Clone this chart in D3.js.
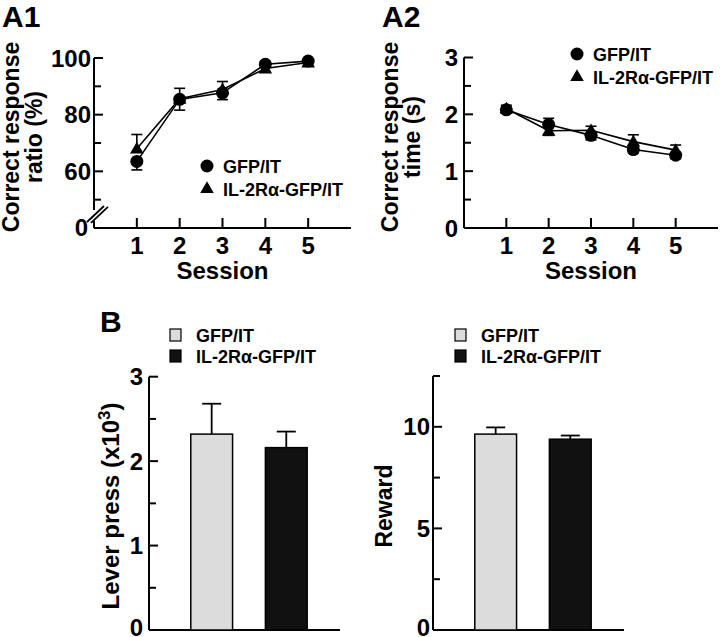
<!DOCTYPE html>
<html><head><meta charset="utf-8">
<script src="https://cdn.jsdelivr.net/npm/d3@7/dist/d3.min.js"></script>
<style>
html,body{margin:0;padding:0;background:#fff;}
svg text{font-family:"Liberation Sans",Arial,Helvetica,sans-serif;font-weight:bold;fill:#000;}
</style></head>
<body>
<svg id="chart" width="720" height="637"></svg>
<script>
// ---------- DATA ----------
const sessions = [1, 2, 3, 4, 5];
const seriesNames = ["GFP/IT", "IL-2Rα-GFP/IT"];
// A1: correct response ratio (%)
const a1GFP = [63.5, 85.4, 87.7, 97.8, 98.9];
const a1GFPErr = [3.0, 3.8, 2.4, 1.0, 0.8];
const a1IL = [68.0, 85.6, 88.9, 96.3, 98.4];
const a1ILErr = [5.0, 3.7, 2.8, 1.2, 1.0];
const a1Ticks = [50, 60, 70, 80, 90, 100];
const a1Labels = [60, 80, 100];
// A2: correct response time (s)
const a2GFP = [2.08, 1.82, 1.63, 1.38, 1.28];
const a2GFPErr = [0.06, 0.11, 0.08, 0.06, 0.06];
const a2IL = [2.10, 1.71, 1.72, 1.52, 1.37];
const a2ILErr = [0.06, 0.08, 0.07, 0.12, 0.09];
const a2Ticks = [0, 0.5, 1, 1.5, 2, 2.5, 3];
const a2Labels = [0, 1, 2, 3];
// B: bars
const leverPress = [2.32, 2.16];
const leverPressErr = [0.36, 0.19];
const leverTicks = [0, 0.5, 1, 1.5, 2, 2.5, 3];
const leverLabels = [0, 1, 2, 3];
const reward = [9.64, 9.39];
const rewardErr = [0.33, 0.18];
const rewardTicks = [0, 2.5, 5, 7.5, 10, 12.5];
const rewardLabels = [0, 5, 10];
const barFills = ["#dcdcdc", "#111111"];

// ---------- DRAW ----------
const svg = d3.select("#chart");
const TICKF = 24, TITLEF = 23, LEGF = 18;

function text(g, x, y, s, size, anchor, rot) {
  const t = g.append("text").attr("font-size", size).attr("text-anchor", anchor || "start").text(s);
  if (rot) t.attr("transform", `translate(${x},${y}) rotate(-90)`);
  else t.attr("x", x).attr("y", y);
  return t;
}

function yTicks(g, x0, y, ticks, labels, fmt, pad) {
  ticks.forEach(v => {
    const major = labels.includes(v);
    g.append("line").attr("x1", x0).attr("x2", x0 + (major ? 9 : 7))
      .attr("y1", y(v)).attr("y2", y(v)).attr("stroke", "#000").attr("stroke-width", 2);
    if (major) text(g, x0 - pad, Math.min(y(v) + 8.5, 636), fmt(v), TICKF, "end");
  });
}

function linePanel(opts) {
  const g = svg.append("g");
  const x = d3.scaleLinear().domain([0, 6]).range(opts.xr);
  const y = d3.scaleLinear().domain(opts.yd).range([228, opts.ytop]);
  const x0 = x(0);
  // x axis
  g.append("line").attr("x1", x0).attr("x2", opts.xr[1]).attr("y1", 228).attr("y2", 228)
    .attr("stroke", "#000").attr("stroke-width", 2);
  sessions.forEach(s => {
    g.append("line").attr("x1", x(s)).attr("x2", x(s)).attr("y1", 228).attr("y2", 218)
      .attr("stroke", "#000").attr("stroke-width", 2);
    text(g, x(s), 254, String(s), TICKF, "middle");
  });
  text(g, (x(1) + x(5)) / 2, 279, "Session", TICKF, "middle");
  // y axis
  if (opts.brk) {
    g.append("line").attr("x1", x0).attr("x2", x0).attr("y1", y(opts.yd[1])).attr("y2", 210)
      .attr("stroke", "#000").attr("stroke-width", 2);
    g.append("line").attr("x1", x0).attr("x2", x0).attr("y1", 221).attr("y2", 228)
      .attr("stroke", "#000").attr("stroke-width", 2);
    [0, 4].forEach(o => {
      g.append("line").attr("x1", x0 - 7 + o).attr("y1", 222 + o * 0.2).attr("x2", x0 + 10 + o).attr("y2", 206 + o * 0.2)
        .attr("stroke", "#000").attr("stroke-width", 1.8);
    });
    text(g, x0 - 6, 236, "0", TICKF, "end");
  } else {
    g.append("line").attr("x1", x0).attr("x2", x0).attr("y1", y(opts.yd[1])).attr("y2", 228)
      .attr("stroke", "#000").attr("stroke-width", 2);
  }
  yTicks(g, x0, y, opts.ticks, opts.labels, d => String(d), opts.pad);
  // titles
  text(g, opts.t1x, 137, "Correct response", TITLEF, "middle", true);
  text(g, opts.t2x, 137, opts.t2, TITLEF, "middle", true);
  text(g, opts.px, 27, opts.panel, 30, "start");

  const series = [
    { v: opts.gfp, e: opts.gfpErr, shape: "circle" },
    { v: opts.il, e: opts.ilErr, shape: "triangle" }
  ];
  const line = d3.line().x((d, i) => x(sessions[i])).y(d => y(d));
  // error bars: directed away from the other series
  series.forEach((s, si) => {
    const other = series[1 - si];
    s.v.forEach((v, i) => {
      const dir = v >= other.v[i] ? 1 : -1;
      const ye = y(v + dir * s.e[i]);
      g.append("line").attr("x1", x(sessions[i])).attr("x2", x(sessions[i])).attr("y1", y(v)).attr("y2", ye)
        .attr("stroke", "#000").attr("stroke-width", 1.6);
      g.append("line").attr("x1", x(sessions[i]) - 5.5).attr("x2", x(sessions[i]) + 5.5).attr("y1", ye).attr("y2", ye)
        .attr("stroke", "#000").attr("stroke-width", 1.6);
    });
  });
  series.forEach(s => {
    g.append("path").attr("d", line(s.v)).attr("fill", "none").attr("stroke", "#000").attr("stroke-width", 1.6);
  });
  const circ = d3.symbol().type(d3.symbolCircle).size(Math.PI * 6.5 * 6.5);
  const tri = d3.symbol().type(d3.symbolTriangle).size(80);
  series.forEach(s => {
    s.v.forEach((v, i) => {
      g.append("path").attr("d", s.shape === "circle" ? circ() : tri())
        .attr("transform", `translate(${x(sessions[i])},${y(v) + (s.shape === "circle" ? 0 : 1)})`)
        .attr("fill", "#000");
    });
  });
  // legend
  const L = opts.leg;
  g.append("path").attr("d", circ()).attr("transform", `translate(${L.x},${L.y})`).attr("fill", "#000");
  g.append("path").attr("d", tri()).attr("transform", `translate(${L.x},${L.y + 23})`).attr("fill", "#000");
  text(g, L.x + 16, L.y + 6.5, seriesNames[0], LEGF, "start");
  text(g, L.x + 16, L.y + 29.5, seriesNames[1], LEGF, "start");
}

linePanel({
  xr: [94, 351], yd: [40, 100], ytop: 58, brk: true,
  ticks: a1Ticks, labels: a1Labels, pad: 3,
  t1x: 19, t2x: 42, t2: "ratio (%)", panel: "A1", px: 2,
  gfp: a1GFP, gfpErr: a1GFPErr, il: a1IL, ilErr: a1ILErr,
  leg: { x: 207, y: 166 }
});
linePanel({
  xr: [464, 718], yd: [0, 3], ytop: 57.5, brk: false,
  ticks: a2Ticks, labels: a2Labels, pad: 6,
  t1x: 398, t2x: 420, t2: "time (s)", panel: "A2", px: 382,
  gfp: a2GFP, gfpErr: a2GFPErr, il: a2IL, ilErr: a2ILErr,
  leg: { x: 577, y: 54 }
});

function barPanel(opts) {
  const g = svg.append("g");
  const x = d3.scaleBand().domain(seriesNames).range(opts.xr).paddingInner(0.44).paddingOuter(0.5).align(0.56);
  const y = d3.scaleLinear().domain(opts.yd).range([630, opts.ytop]);
  const x0 = opts.xr[0];
  g.append("line").attr("x1", x0).attr("x2", opts.xr[1]).attr("y1", 630).attr("y2", 630)
    .attr("stroke", "#000").attr("stroke-width", 2);
  g.append("line").attr("x1", x0).attr("x2", x0).attr("y1", y(opts.yd[1])).attr("y2", 630)
    .attr("stroke", "#000").attr("stroke-width", 2);
  yTicks(g, x0, y, opts.ticks, opts.labels, d => String(d), opts.pad);
  seriesNames.forEach((n, i) => {
    const cx = x(n) + x.bandwidth() / 2;
    const ye = y(opts.v[i] + opts.e[i]);
    g.append("line").attr("x1", cx).attr("x2", cx).attr("y1", y(opts.v[i])).attr("y2", ye)
      .attr("stroke", "#000").attr("stroke-width", 1.8);
    g.append("line").attr("x1", cx - 9.5).attr("x2", cx + 9.5).attr("y1", ye).attr("y2", ye)
      .attr("stroke", "#000").attr("stroke-width", 1.8);
    g.append("rect").attr("x", x(n)).attr("width", x.bandwidth())
      .attr("y", y(opts.v[i])).attr("height", 630 - y(opts.v[i]))
      .attr("fill", barFills[i]).attr("stroke", "#000").attr("stroke-width", 1.5);
  });
  // legend
  const L = opts.leg;
  seriesNames.forEach((n, i) => {
    g.append("rect").attr("x", L.x).attr("y", L.y + i * 21).attr("width", 11).attr("height", 12)
      .attr("fill", barFills[i]).attr("stroke", "#000").attr("stroke-width", 1.2);
    text(g, L.x + 26, L.y + 12.5 + i * 21, n, 18, "start");
  });
  const t = opts.title;
  const tt = g.append("text").attr("font-size", t.size).attr("text-anchor", "middle")
    .attr("transform", `translate(${t.x},506) rotate(-90)`);
  tt.append("tspan").text(t.s);
  if (t.sup) {
    tt.append("tspan").attr("font-size", t.size * 0.7).attr("dy", -9).text(t.sup);
    tt.append("tspan").attr("dy", 9).text(")");
  }
}

barPanel({
  xr: [149, 340], yd: [0, 3], ytop: 376.7,
  ticks: leverTicks, labels: leverLabels, pad: 6,
  v: leverPress, e: leverPressErr,
  leg: { x: 170, y: 329 },
  title: { x: 119, s: "Lever press (x10", sup: "3", size: 24 }
});
barPanel({
  xr: [433, 624], yd: [0, 12.5], ytop: 376,
  ticks: rewardTicks, labels: rewardLabels, pad: 3,
  v: reward, e: rewardErr,
  leg: { x: 455, y: 329 },
  title: { x: 392, s: "Reward", size: 23 }
});
text(svg, 100, 332, "B", 30, "start");
</script>
</body></html>
